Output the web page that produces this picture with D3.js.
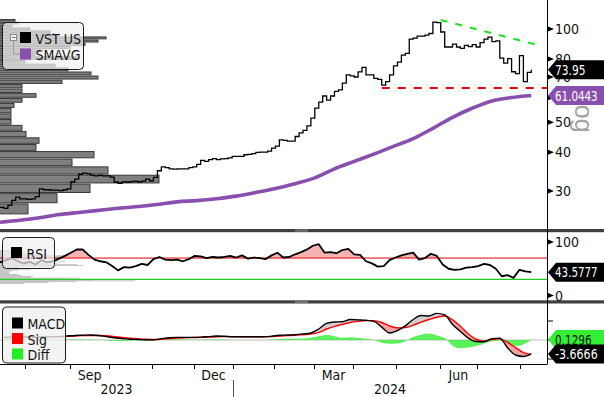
<!DOCTYPE html>
<html>
<head>
<meta charset="utf-8">
<script src="https://cdnjs.cloudflare.com/ajax/libs/d3/7.8.5/d3.min.js"></script>
<style>
  html, body { margin: 0; padding: 0; background: #fff; }
  svg { display: block; font-family: "Liberation Sans Narrow", "DejaVu Sans Condensed", "Liberation Sans", sans-serif; }
</style>
</head>
<body>
<svg id="chart" width="604" height="397"></svg>
<script>
// ---- data ----
const startDate = "2023-07-13";
const holidays = ["2023-09-04", "2023-11-23", "2023-12-25", "2024-01-01", "2024-01-15",
  "2024-02-19", "2024-03-29", "2024-05-27", "2024-06-19", "2024-07-04"];

// VST US close, every 2nd trading day from startDate
const closes = [26.6, 26.4, 27.0, 28.0, 28.7, 28.3, 28.3, 28.2, 28.3, 28.8,
  30.5, 30.3, 30.3, 30.2, 30.2, 30.1, 30.3, 30.5, 32.1, 32.8,
  34.0, 34.3, 34.1, 33.8, 33.6, 33.8, 33.6, 33.6, 33.3, 32.1,
  31.8, 32.1, 32.1, 32.2, 32.3, 32.1, 32.3, 32.8, 32.4, 33.2,
  34.9, 35.9, 35.7, 35.4, 35.3, 35.4, 35.4, 35.4, 35.7, 35.9,
  36.6, 37.7, 37.4, 37.9, 38.2, 37.9, 38.1, 38.2, 38.4, 38.8,
  38.8, 38.8, 39.3, 39.4, 39.6, 40.0, 40.1, 40.1, 40.4, 41.3,
  41.9, 43.9, 43.7, 43.5, 43.5, 45.0, 46.2, 47.1, 48.7, 51.6,
  55.6, 58.1, 60.8, 59.0, 60.8, 62.9, 63.6, 66.9, 71.1, 70.6,
  70.0, 72.7, 75.2, 71.1, 71.1, 69.3, 68.8, 65.9, 67.6, 71.1,
  76.0, 78.2, 82.4, 83.5, 92.8, 93.5, 94.9, 94.9, 95.6, 96.7,
  105.2, 104.9, 97.8, 87.5, 87.5, 89.4, 87.5, 86.6, 88.5, 87.7,
  89.1, 87.5, 90.4, 92.8, 94.2, 91.1, 91.5, 80.6, 77.6, 80.3,
  72.8, 71.8, 82.0, 67.6, 72.5, 73.95];

// 200-day simple moving average, every 10th trading day (ends on last bar)
const smavg = [23.8, 24.15, 24.6, 25.2, 25.6, 26.0, 26.4, 26.75, 27.15, 27.7,
  27.95, 28.35, 28.9, 29.7, 30.6, 31.7, 33.1, 35.4, 37.4, 39.5,
  41.8, 44.3, 47.8, 51.9, 55.5, 58.6, 60.1, 61.0443];

// RSI, every 3rd trading day (ends on last bar)
const rsi = [62, 66, 70, 64, 60, 63, 58, 66, 62, 64,
  69, 74, 80, 86, 86, 76, 67, 64, 62, 55,
  47, 53, 52, 55, 59, 57, 68, 72, 67, 66,
  67, 64, 68, 74, 73, 70, 72, 71, 72, 74,
  71, 75, 69, 71, 70, 68, 75, 80, 71, 72,
  77, 81, 86, 93, 96, 80, 81, 79, 85, 87,
  77, 76, 64, 60, 54, 55, 66, 71, 75, 78,
  80, 67, 70, 78, 74, 58, 50, 48, 49, 52,
  53, 55, 59, 57, 50, 36, 38, 33, 48, 45,
  43.5777];

// MACD / signal / diff, every 4th trading day (ends on last bar)
const macd = [0.7, 0.8, 0.8, 0.8, 0.65, 0.9, 0.9, 0.9, 1.05, 1.2,
  1.25, 1.3, 1.2, 0.9, 0.6, 0.35, 0.2, 0.13, 0.05, 0.08,
  0.35, 0.6, 0.7, 0.7, 0.7, 0.75, 0.9, 1.05, 1.0, 0.85,
  0.85, 0.85, 0.85, 0.85, 1.0, 1.25, 1.3, 1.4, 1.6, 1.85,
  2.9, 4.35, 4.75, 4.8, 5.4, 5.3, 5.2, 4.9, 3.4, 1.85,
  2.5, 3.7, 5.4, 6.45, 6.3, 7.0, 6.6, 4.1, 2.25, 0.5,
  -0.4, -0.45, 0.35, 0.45, -2.1, -3.95, -4.35, -3.6666];
const sig = [0.6, 0.7, 0.75, 0.8, 0.75, 0.8, 0.85, 0.85, 0.95, 1.05,
  1.15, 1.2, 1.2, 1.1, 0.9, 0.7, 0.5, 0.35, 0.2, 0.15,
  0.2, 0.35, 0.5, 0.6, 0.65, 0.7, 0.75, 0.85, 0.9, 0.9,
  0.85, 0.85, 0.85, 0.85, 0.9, 1.05, 1.15, 1.25, 1.4, 1.55,
  2.0, 2.9, 3.6, 4.1, 4.6, 4.9, 5.1, 5.1, 4.6, 3.7,
  3.2, 3.3, 3.9, 4.7, 5.4, 6.0, 6.3, 5.3, 3.6, 1.6,
  0.2, -0.3, 0.1, 0.3, -0.6, -2.0, -3.3, -3.7962];
const diff = [0.25, 0.25, 0.2, 0.15, 0.05, 0.05, 0.05, 0.05, 0.1, 0.15,
  0.15, 0.15, 0.05, -0.1, -0.2, -0.25, -0.2, -0.15, -0.1, -0.05,
  0.1, 0.2, 0.2, 0.1, 0.05, 0.05, 0.1, 0.15, 0.1, 0.0,
  0.0, 0.0, 0.0, 0.0, 0.1, 0.25, 0.3, 0.3, 0.4, 0.6,
  1.0, 1.3, 1.0, 0.6, 0.7, 0.5, 0.3, 0.0, -0.7, -1.0,
  -0.9, -0.3, 0.8, 1.4, 1.7, 1.2, 0.5, -1.5, -2.2, -2.0,
  -1.6, -0.9, -0.3, -0.1, -1.2, -1.6, -1.2, 0.1296];

// volume at price (left histogram)
const volBinLow = [25.20, 27.37, 29.54, 31.71, 33.88, 36.05, 38.22, 40.39, 42.56, 44.73,
  46.90, 49.07, 51.24, 53.41, 55.58, 57.75, 59.92, 62.09, 64.26, 66.43,
  68.60, 70.77, 72.94, 75.11, 77.28, 79.45, 81.62, 83.79, 85.96, 88.13,
  90.30, 92.47, 94.64, 96.81, 98.98, 101.15, 103.32, 105.49];
const volBinSize = 2.17;
const volShares = [28, 57, 90, 159, 108, 72, 94, 36, 39, 26,
  22, 11, 11, 11, 14, 22, 36, 22, 22, 62,
  98, 91, 68, 55, 25, 77, 35, 40, 70, 85,
  98, 106, 55, 50, 30, 12, 18, 15];

// drawn trend lines
const resistance = [{ date: "2024-06-03", value: 106.9 }, { date: "2024-08-15", value: 88.2 }];
const support = { date: "2024-04-19", value: 64.5 };

const priceTicks = [30, 40, 50, 60, 70, 80, 100];
const rsiTicks = [0, 100];
const macdTicks = [-5, 0, 5];
const quarterLabels = [["2023-09", "Sep"], ["2023-12", "Dec"], ["2024-03", "Mar"], ["2024-06", "Jun"]];

// ---- trading calendar ----
function tradingDays(from, n) {
  const out = [];
  const d = new Date(from + "T00:00:00Z");
  while (out.length < n) {
    const wd = d.getUTCDay(), s = d.toISOString().slice(0, 10);
    if (wd !== 0 && wd !== 6 && !holidays.includes(s)) out.push(s);
    d.setUTCDate(d.getUTCDate() + 1);
  }
  return out;
}
const days = tradingDays(startDate, 300);
const idxOf = new Map(days.map((d, i) => [d, i]));
const lastIdx = 270;
const series = (arr, step) => arr.map((v, k) => ({ i: lastIdx - step * (arr.length - 1 - k), v }));
const firstOfMonth = m => days.findIndex(d => d.startsWith(m));

// ---- layout ----
const W = 604, H = 397, PR = 547;
const svg = d3.select("#chart");
const x = d3.scaleLinear().domain([0, 278]).range([0, PR]);
const yP = d3.scaleLog().domain([30, 100]).range([191.1, 29]);
const yR = d3.scaleLinear().domain([0, 100]).range([295.5, 242]);
const yM = d3.scaleLinear().domain([-5, 5]).range([359, 321]);

const defs = svg.append("defs");
const clip = (id, y0, h) => defs.append("clipPath").attr("id", id)
  .append("rect").attr("x", 0).attr("y", y0).attr("width", PR).attr("height", h);
clip("cMain", 0, 229);
clip("cRsi", 232, 68);
clip("cMacd", 304, 60);

// ---- main panel ----
const gMain = svg.append("g").attr("clip-path", "url(#cMain)");

const wVol = d3.scaleLinear().domain([0, d3.max(volShares)]).range([0, 159]);
gMain.selectAll("rect.vol").data(volBinLow).join("rect")
  .attr("class", "vol")
  .attr("x", -1)
  .attr("y", d => yP(d + volBinSize) + 0.5)
  .attr("width", (d, i) => wVol(volShares[i]) + 1)
  .attr("height", d => Math.max(1, yP(d) - yP(d + volBinSize) - 1.2))
  .attr("fill", "#7f7f7f").attr("stroke", "#383838").attr("stroke-width", 1);

gMain.append("path")
  .datum(series(smavg, 10))
  .attr("fill", "none").attr("stroke", "#8a4fae").attr("stroke-width", 3.6)
  .attr("d", d3.line().x(d => x(d.i)).y(d => yP(d.v)).curve(d3.curveMonotoneX));

gMain.append("path")
  .datum(series(closes, 2))
  .attr("fill", "none").attr("stroke", "#000").attr("stroke-width", 1.3)
  .attr("d", d3.line().x(d => x(d.i)).y(d => yP(d.v)).curve(d3.curveStepAfter));

gMain.append("line")
  .attr("x1", x(idxOf.get(resistance[0].date))).attr("y1", yP(resistance[0].value))
  .attr("x2", x(idxOf.get(resistance[1].date))).attr("y2", yP(resistance[1].value))
  .attr("stroke", "#22e022").attr("stroke-width", 2.2).attr("stroke-dasharray", "7,8");

gMain.append("line")
  .attr("x1", x(idxOf.get(support.date))).attr("x2", PR)
  .attr("y1", yP(support.value)).attr("y2", yP(support.value))
  .attr("stroke", "#e60000").attr("stroke-width", 2).attr("stroke-dasharray", "8,8");

// ---- RSI panel ----
const gRsi = svg.append("g").attr("clip-path", "url(#cRsi)");
const rsiData = series(rsi, 3);
// faint copy of the volume histogram that shows through on the left
const yGhost = d3.scaleLinear().domain([0, volBinLow.length]).range([284, 250]);
gRsi.selectAll("rect.ghost").data(volBinLow).join("rect")
  .attr("x", 0).attr("y", (d, i) => yGhost(i + 1))
  .attr("width", (d, i) => wVol(volShares[i]) * 0.85)
  .attr("height", 0.8)
  .attr("fill", "#9a9a9a").attr("opacity", 0.7);

defs.append("clipPath").attr("id", "cAbove70").append("rect")
  .attr("x", 0).attr("y", 232).attr("width", PR).attr("height", yR(70) - 232);
gRsi.append("path").datum(rsiData)
  .attr("clip-path", "url(#cAbove70)")
  .attr("fill", "#f6b3b3")
  .attr("d", d3.area().x(d => x(d.i)).y0(yR(70)).y1(d => yR(d.v)));
gRsi.append("line").attr("x1", 0).attr("x2", PR).attr("y1", yR(70)).attr("y2", yR(70))
  .attr("stroke", "#e00000").attr("stroke-width", 1);
gRsi.append("line").attr("x1", 0).attr("x2", PR).attr("y1", yR(30)).attr("y2", yR(30))
  .attr("stroke", "#22cc22").attr("stroke-width", 1.2);
gRsi.append("path").datum(rsiData)
  .attr("fill", "none").attr("stroke", "#000").attr("stroke-width", 1.8)
  .attr("stroke-linejoin", "round")
  .attr("d", d3.line().x(d => x(d.i)).y(d => yR(d.v)));

// ---- MACD panel ----
const gMacd = svg.append("g").attr("clip-path", "url(#cMacd)");
const mData = macd.map((v, k) => ({ i: lastIdx - 4 * (macd.length - 1 - k), m: v, s: sig[k], d: diff[k] }));
gMacd.append("line").attr("x1", 0).attr("x2", PR).attr("y1", yM(0)).attr("y2", yM(0))
  .attr("stroke", "#bdbdbd").attr("stroke-width", 1);
gMacd.append("path").datum(mData)
  .attr("fill", "#3def3d").attr("opacity", 0.85)
  .attr("d", d3.area().x(d => x(d.i)).y0(yM(0)).y1(d => yM(d.d)).curve(d3.curveMonotoneX));

const sigLineGen = d3.line().x(d => x(d.i)).y(d => yM(d.s)).curve(d3.curveMonotoneX);
defs.append("clipPath").attr("id", "cAboveSig").append("path")
  .datum(mData)
  .attr("d", d3.area().x(d => x(d.i)).y0(304).y1(d => yM(d.s)).curve(d3.curveMonotoneX));
defs.append("clipPath").attr("id", "cBelowSig").append("path")
  .datum(mData)
  .attr("d", d3.area().x(d => x(d.i)).y0(364).y1(d => yM(d.s)).curve(d3.curveMonotoneX));
const between = d3.area().x(d => x(d.i)).y0(d => yM(d.s)).y1(d => yM(d.m)).curve(d3.curveMonotoneX);
gMacd.append("path").datum(mData).attr("clip-path", "url(#cAboveSig)")
  .attr("fill", "#d0d0d0").attr("d", between);
gMacd.append("path").datum(mData).attr("clip-path", "url(#cBelowSig)")
  .attr("fill", "#f4a3a3").attr("d", between);
gMacd.append("path").datum(mData)
  .attr("fill", "none").attr("stroke", "#ff0000").attr("stroke-width", 1.4)
  .attr("d", sigLineGen);
gMacd.append("path").datum(mData)
  .attr("fill", "none").attr("stroke", "#000").attr("stroke-width", 1.4)
  .attr("d", d3.line().x(d => x(d.i)).y(d => yM(d.m)).curve(d3.curveMonotoneX));

// ---- frames / separators ----
function separator(y) {
  svg.append("rect").attr("x", 0).attr("y", y).attr("width", W).attr("height", 3.2).attr("fill", "#3f3f3f");
  [0.9, 2.1].forEach(o => svg.append("line").attr("x1", 295).attr("x2", 308)
    .attr("y1", y + o).attr("y2", y + o).attr("stroke", "#9a9a9a").attr("stroke-width", 0.7));
}
separator(229);
separator(300.3);
svg.append("line").attr("x1", PR + 0.5).attr("x2", PR + 0.5).attr("y1", 0).attr("y2", 364.5)
  .attr("stroke", "#000").attr("stroke-width", 1);
svg.append("line").attr("x1", 0).attr("x2", PR).attr("y1", 364.5).attr("y2", 364.5)
  .attr("stroke", "#000").attr("stroke-width", 1);

// ---- right axes ----
const tri = y => `M${PR + 1},${y - 2.5}L${PR + 7},${y}L${PR + 1},${y + 2.5}Z`;
const axisText = (y, t) => svg.append("text").attr("x", 555).attr("y", y + 5)
  .attr("font-size", 14).attr("fill", "#111").text(t);

svg.append("text")
  .attr("transform", `translate(575,116) rotate(90)`)
  .attr("text-anchor", "middle")
  .attr("font-family", '"Liberation Sans", sans-serif')
  .attr("font-size", 25).attr("fill", "#a3a3a3").text("log");

priceTicks.forEach(v => {
  svg.append("path").attr("d", tri(yP(v))).attr("fill", "#000");
  axisText(yP(v), d3.format("d")(v));
});
rsiTicks.forEach(v => {
  svg.append("path").attr("d", tri(yR(v))).attr("fill", "#000");
  axisText(yR(v), v);
});
macdTicks.forEach(v => {
  svg.append("line").attr("x1", PR).attr("x2", PR + 6).attr("y1", yM(v)).attr("y2", yM(v))
    .attr("stroke", "#000").attr("stroke-width", 1);
});

// value tag on the right axis; text squeezed to fit the tag
function valueBox(y, text, fill, color) {
  const h = 9.5;
  svg.append("path")
    .attr("d", `M${PR + 1},${y}L${PR + 9},${y - h}L${W},${y - h}L${W},${y + h}L${PR + 9},${y + h}Z`)
    .attr("fill", fill);
  svg.append("text").attr("x", 555).attr("y", y + 5.2)
    .attr("font-size", 14.5).attr("fill", color)
    .attr("textLength", text.length * 6.1).attr("lengthAdjust", "spacingAndGlyphs")
    .text(text);
}
valueBox(yP(closes[closes.length - 1]), d3.format(".2f")(closes[closes.length - 1]), "#000", "#fff");
valueBox(yP(smavg[smavg.length - 1]), d3.format(".4f")(smavg[smavg.length - 1]), "#8a4fae", "#fff");
valueBox(yR(rsi[rsi.length - 1]), d3.format(".4f")(rsi[rsi.length - 1]), "#000", "#fff");
valueBox(yM(diff[diff.length - 1]), d3.format(".4f")(diff[diff.length - 1]), "#33ee33", "#111");
valueBox(yM(macd[macd.length - 1]), d3.format(".4f")(macd[macd.length - 1]).replace("−", "-"), "#000", "#fff");

// ---- time axis ----
const months = d3.utcMonths(new Date("2023-08-01"), new Date("2024-09-01")).map(d3.utcFormat("%Y-%m"));
months.forEach(m => {
  const xi = Math.round(x(firstOfMonth(m) - 0.5)) + 0.5;
  svg.append("line").attr("x1", xi).attr("x2", xi).attr("y1", 364.5).attr("y2", 369)
    .attr("stroke", "#000").attr("stroke-width", 1);
});
quarterLabels.forEach(([m, t]) => {
  const i0 = firstOfMonth(m);
  const next = d3.utcFormat("%Y-%m")(d3.utcMonth.offset(new Date(m + "-01"), 1));
  const i1 = firstOfMonth(next);
  svg.append("text").attr("x", x((i0 + i1) / 2 - 0.5)).attr("y", 380)
    .attr("text-anchor", "middle").attr("font-size", 14).attr("fill", "#111").text(t);
});
const janX = x(firstOfMonth("2024-01") - 0.5);
svg.append("line").attr("x1", Math.round(janX) + 0.5).attr("x2", Math.round(janX) + 0.5)
  .attr("y1", 380).attr("y2", 397).attr("stroke", "#555").attr("stroke-width", 1);
svg.append("text").attr("x", janX / 2).attr("y", 394).attr("text-anchor", "middle")
  .attr("font-size", 14).attr("fill", "#111").text("2023");
svg.append("text").attr("x", (janX + PR) / 2).attr("y", 394).attr("text-anchor", "middle")
  .attr("font-size", 14).attr("fill", "#111").text("2024");

// ---- legends ----
function legendBox(x0, y0, w, h, op) {
  svg.append("rect").attr("x", x0 + 0.5).attr("y", y0 + 0.5).attr("width", w).attr("height", h)
    .attr("rx", 4).attr("fill", "#f0f0f0").attr("fill-opacity", op)
    .attr("stroke", "#1c1c1c").attr("stroke-width", 1);
}
function legendItem(x0, y0, color, label) {
  svg.append("rect").attr("x", x0).attr("y", y0).attr("width", 11).attr("height", 11).attr("fill", color);
  svg.append("text").attr("x", x0 + 15.5).attr("y", y0 + 11.5)
    .attr("font-size", 14).attr("fill", "#141414").text(label);
}
legendBox(2, 22, 81, 47, 0.72);
svg.append("rect").attr("x", 10.5).attr("y", 34.5).attr("width", 6).attr("height", 6)
  .attr("fill", "#f4f4f4").attr("stroke", "#8a8a8a");
svg.append("line").attr("x1", 12).attr("x2", 15.5).attr("y1", 37.5).attr("y2", 37.5).attr("stroke", "#777");
svg.append("path").attr("d", "M13.5,41V54H20").attr("fill", "none").attr("stroke", "#9a9a9a");
legendItem(20, 32, "#000", "VST US");
legendItem(20, 48.5, "#8a4fae", "SMAVG");

legendBox(2, 237, 52, 31, 0.7);
legendItem(11, 247, "#000", "RSI");

legendBox(2, 306.5, 63, 56, 0.8);
legendItem(12, 317.5, "#000", "MACD");
legendItem(12, 333, "#ff0000", "Sig");
legendItem(12, 348.5, "#22ee22", "Diff");
</script>
</body>
</html>
